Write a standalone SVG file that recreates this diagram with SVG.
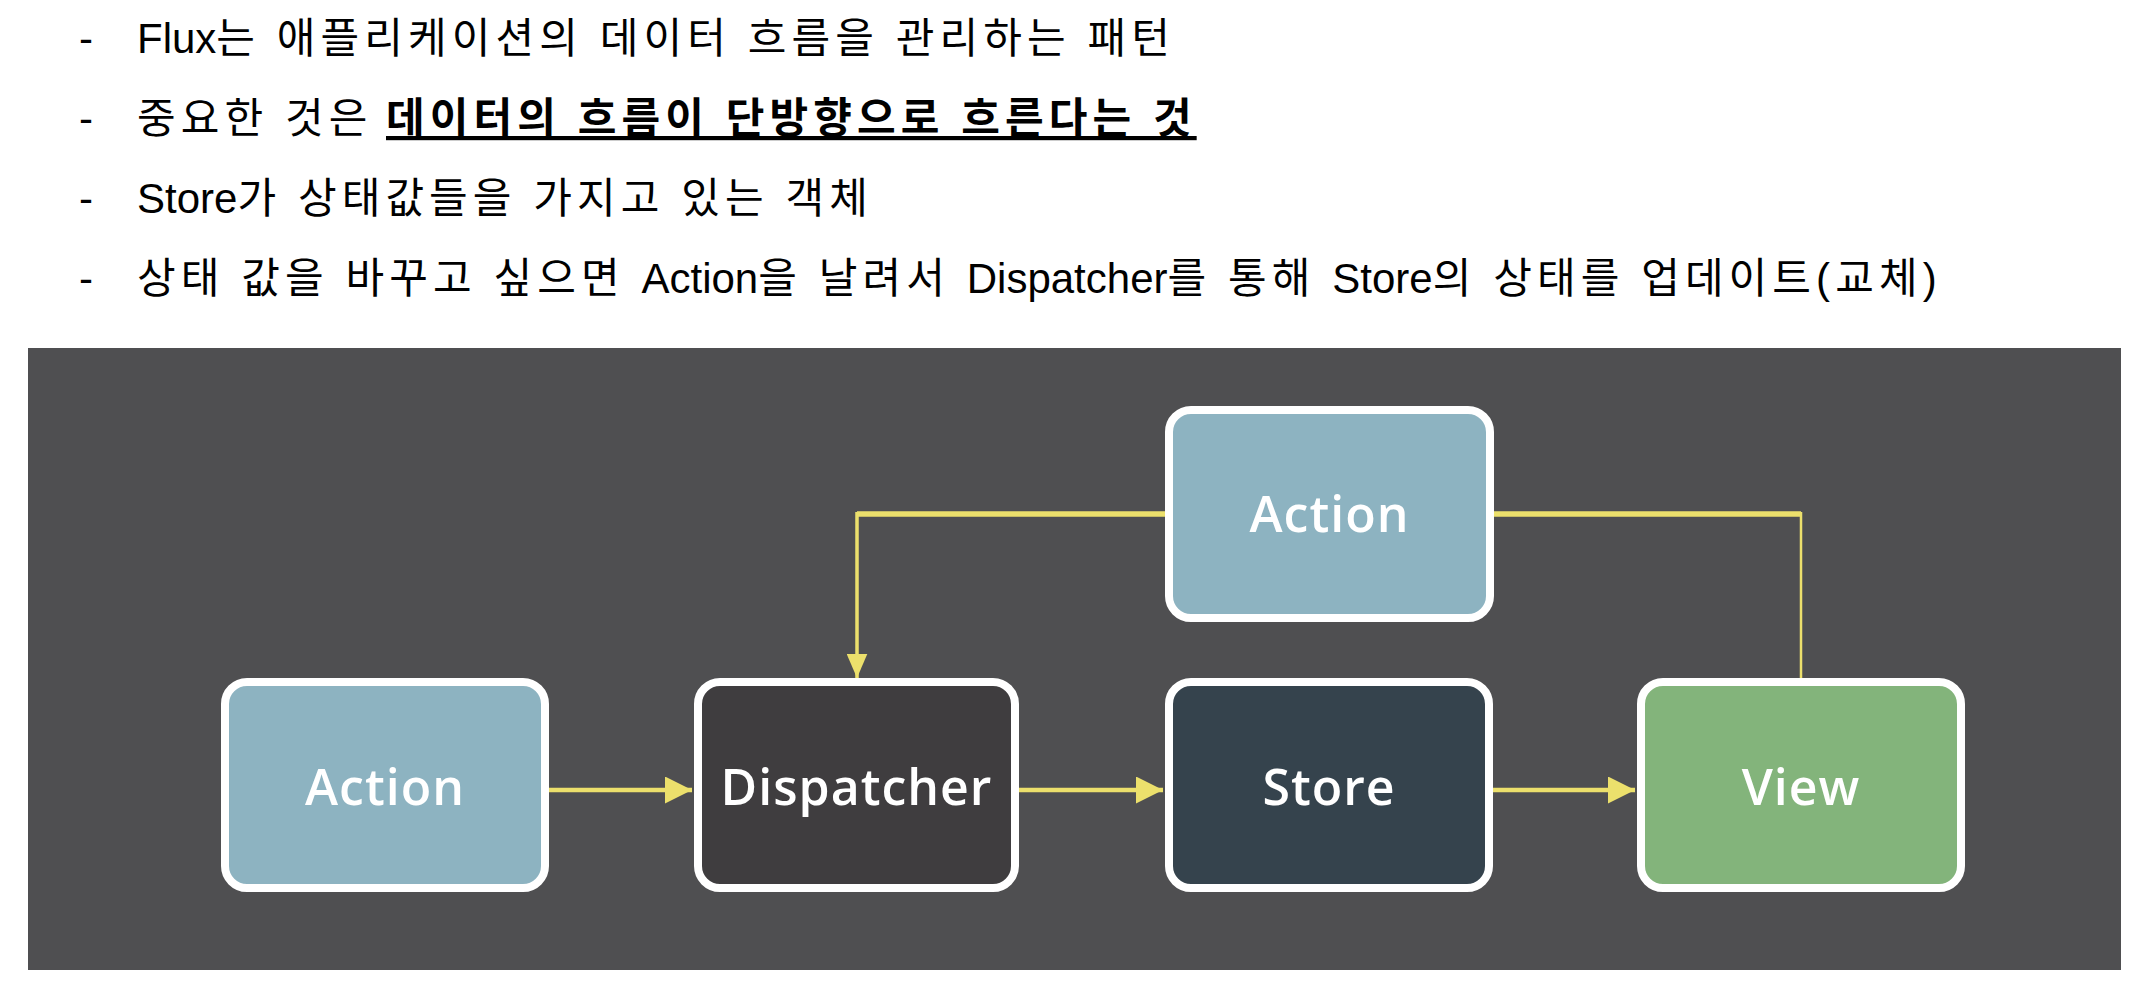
<svg xmlns="http://www.w3.org/2000/svg" width="2144" height="994" viewBox="0 0 2144 994">
  <style>
    .hd { font-family: 'Liberation Sans', 'Noto Sans CJK KR', sans-serif; font-size: 42px; fill: #000; }
    .bd { font-weight: bold; }
    .ko { letter-spacing: 5.1px; }
    .box { stroke: #ffffff; stroke-width: 8; }
    .lbl { font-family: 'Open Sans', 'Noto Sans', sans-serif; font-weight: 600; font-size: 50px; fill: #ffffff; text-anchor: middle; letter-spacing: 1px; }
    .ln { fill: none; stroke: #ece06c; stroke-linecap: butt; stroke-linejoin: miter; }
  </style>
  <defs>
    <marker id="ah" markerWidth="6" markerHeight="6" refX="6" refY="3" orient="auto" markerUnits="strokeWidth">
      <path d="M0,0 L6,3 L0,6 Z" fill="#ece06c"/>
    </marker>
    <marker id="ahv" markerWidth="7" markerHeight="6" refX="7" refY="3" orient="auto" markerUnits="strokeWidth">
      <path d="M0,0 L7,3 L0,6 Z" fill="#ece06c"/>
    </marker>
  </defs>
  <rect width="2144" height="994" fill="#ffffff"/>

  <g id="header">
    <text class="hd" x="79" y="53">-</text>
    <text class="hd" x="137" y="53">Flux<tspan class="ko">는 애플리케이션의 데이터 흐름을 관리하는 패턴</tspan></text>
    <text class="hd" x="79" y="133">-</text>
    <text class="hd" y="133"><tspan class="ko" x="137">중요한 것은</tspan><tspan class="bd ko" x="386" text-decoration="underline">데이터의 흐름이 단방향으로 흐른다는 것</tspan></text>
    <text class="hd" x="79" y="213">-</text>
    <text class="hd" x="137" y="213">Store<tspan class="ko">가 상태값들을 가지고 있는 객체</tspan></text>
    <text class="hd" x="79" y="293">-</text>
    <text class="hd" x="137" y="293"><tspan class="ko">상태 값을 바꾸고 싶으면 </tspan>Action<tspan class="ko">을 날려서 </tspan>Dispatcher<tspan class="ko">를 통해 </tspan>Store<tspan class="ko">의 상태를 업데이트(교체)</tspan></text>
  </g>

  <rect id="panel" x="28" y="348" width="2093" height="622" fill="#4f4f51"/>

  <g id="connectors">
    <line class="ln" x1="549" y1="790" x2="692" y2="790" stroke-width="4.5" marker-end="url(#ah)"/>
    <line class="ln" x1="1019" y1="790" x2="1163" y2="790" stroke-width="4.5" marker-end="url(#ah)"/>
    <line class="ln" x1="1493" y1="790" x2="1635" y2="790" stroke-width="4.5" marker-end="url(#ah)"/>
    <polyline class="ln" points="1165,514 857,514" stroke-width="5.5"/>
    <line class="ln" x1="857" y1="512" x2="857" y2="678" stroke-width="3.5" marker-end="url(#ahv)"/>
    <polyline class="ln" points="1494,514 1801,514" stroke-width="5.5"/>
    <line class="ln" x1="1801" y1="512" x2="1801" y2="680" stroke-width="2.5"/>
  </g>

  <g id="node-action-top">
    <rect class="box" x="1169" y="410" width="321" height="208" rx="22" fill="#8db3c1"/>
    <text class="lbl" x="1329.5" y="532">Action</text>
  </g>
  <g id="node-action">
    <rect class="box" x="225" y="682" width="320" height="206" rx="22" fill="#8db3c1"/>
    <text class="lbl" x="385" y="805">Action</text>
  </g>
  <g id="node-dispatcher">
    <rect class="box" x="698" y="682" width="317" height="206" rx="22" fill="#3f3d3f"/>
    <text class="lbl" x="856.5" y="805">Dispatcher</text>
  </g>
  <g id="node-store">
    <rect class="box" x="1169" y="682" width="320" height="206" rx="22" fill="#35434d"/>
    <text class="lbl" x="1329" y="805">Store</text>
  </g>
  <g id="node-view">
    <rect class="box" x="1641" y="682" width="320" height="206" rx="22" fill="#83b47b"/>
    <text class="lbl" x="1801" y="805">View</text>
  </g>
</svg>
